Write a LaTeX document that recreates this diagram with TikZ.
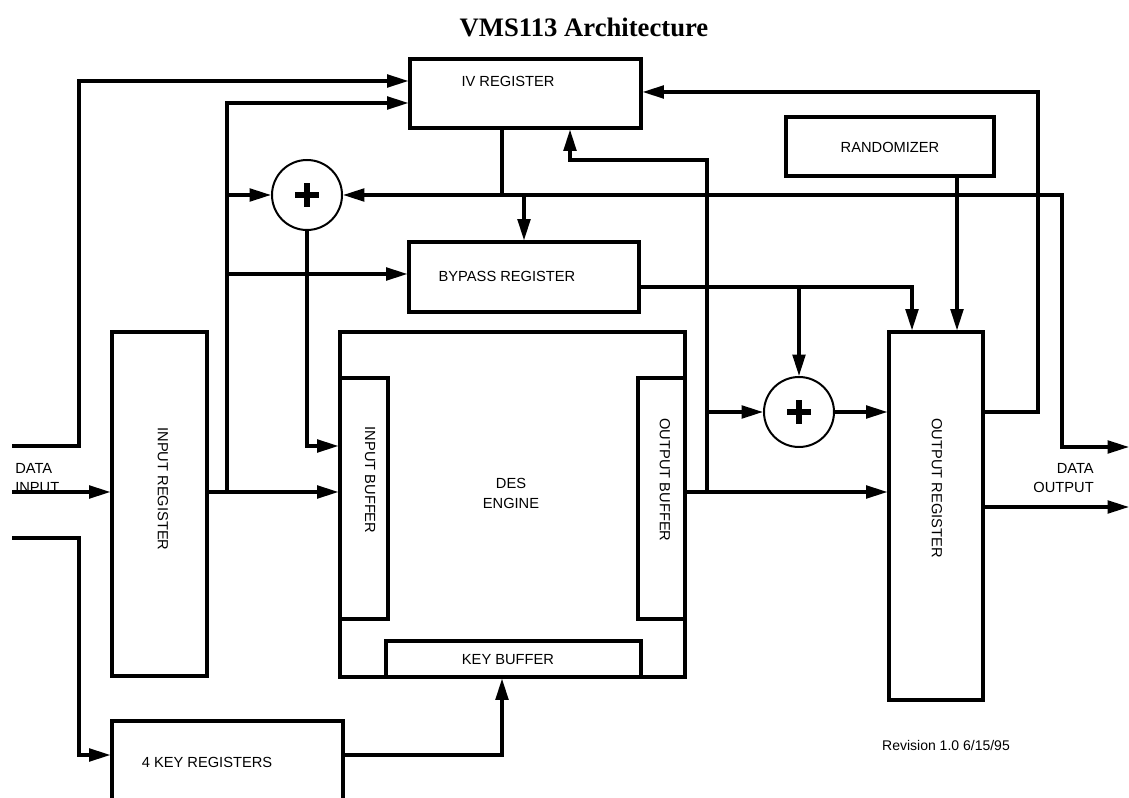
\documentclass[tikz,border=0pt]{standalone}
\usepackage{fontspec}
\setmainfont{Liberation Sans}
\newfontfamily\titlefont{Liberation Serif}
\usetikzlibrary{arrows.meta,fit}
\tikzset{
  blk/.style={draw, line width=2.3pt, inner sep=0pt, fit={#1}},
  lbl/.style={font=\fontsize{11}{14}\selectfont, inner sep=0pt},
  vlbl/.style={lbl, rotate=-90},
  sumop/.style={circle, draw, fill=white, line width=1.5pt, minimum size=52.5pt, inner sep=0pt,
    path picture={
      \draw[line width=3.8pt] ([xshift=-9pt]path picture bounding box.center) -- ++(18pt,0);
      \draw[line width=3.8pt] ([yshift=-9pt]path picture bounding box.center) -- ++(0,18pt);
    }},
  wire/.style={line width=2.3pt},
  arr/.style={wire, -{Triangle[length=16pt,width=9.5pt]}},
}
\begin{document}
\begin{tikzpicture}[x=0.75pt, y=-0.75pt]
\useasboundingbox (0,0) rectangle (1129,798);
\node[font=\titlefont\bfseries\fontsize{20}{24}\selectfont] (title) at (584,27) {VMS113 Architecture};
% registers and buffers
\node[blk={(410,59) (641,128)}] (iv) {};
\node[lbl] (ivtxt) at (508,81) {IV REGISTER};
\node[blk={(786,117) (994,176)}] (rnd) {};
\node[lbl] (rndtxt) at (890,147) {RANDOMIZER};
\node[blk={(409,242) (639,312)}] (byp) {};
\node[lbl] (byptxt) at (507,276) {BYPASS REGISTER};
\node[blk={(112,332) (207,676)}] (inreg) {};
\node[vlbl] (inregtxt) at (163,489) {INPUT REGISTER};
\node[blk={(340,332) (685,677)}] (des) {};
\node[lbl, align=center, font=\fontsize{11}{15}\selectfont] (destxt) at (511,493) {DES\\ENGINE};
\node[blk={(340,378) (388,619)}] (inbuf) {};
\node[vlbl] (inbuftxt) at (370,480) {INPUT BUFFER};
\node[blk={(638,378) (685,619)}] (outbuf) {};
\node[vlbl] (outbuftxt) at (665,480) {OUTPUT BUFFER};
\node[blk={(386,641) (641,677)}] (keybuf) {};
\node[lbl] (keybuftxt) at (508,660) {KEY BUFFER};
\node[blk={(112,721) (343,830)}] (keyreg) {};
\node[lbl] (keyregtxt) at (207,762) {4 KEY REGISTERS};
\node[blk={(889,332) (983,700)}] (outreg) {};
\node[vlbl] (outregtxt) at (937,488) {OUTPUT REGISTER};
\node[sumop] (sum1) at (307,195) {};
\node[sumop] (sum2) at (799,412) {};
% external ports
\coordinate (din1) at (12,446);
\coordinate (din2) at (12,492);
\coordinate (din3) at (12,538);
\coordinate (dout1) at (1129,447);
\coordinate (dout2) at (1129,507);
\node[lbl, align=left, anchor=west] (dintxt) at (15,478) {DATA\\INPUT};
\node[lbl, align=right, anchor=east] (douttxt) at (1094,478) {DATA\\OUTPUT};
% junctions
\coordinate (jin) at (227,492);
\coordinate (jiv) at (502,195);
\coordinate (jout) at (707,492);
\coordinate (jbyp) at (799,287);
% input side
\draw[arr] (din1) -- (79,446) |- (iv.west |- 0,81);
\draw[arr] (din2) -- (inreg.west |- din2);
\draw[arr] (din3) -- (79,538) |- (keyreg.west |- 0,755);
\draw[arr] (inreg.east |- jin) -- (inbuf.west |- jin);
\draw[arr] (jin) |- (iv.west |- 0,103);
\draw[arr] (227,195) -- (sum1.west);
\draw[arr] (227,274) -- (byp.west |- 0,274);
\draw[arr] (sum1.south) |- (inbuf.west |- 0,446);
% IV feedback bus
\draw[wire] (iv.south -| jiv) -- (jiv);
\draw[arr] (jiv) -- (sum1.east);
\draw[arr] (524,195) -- (byp.north -| 524,0);
\draw[arr] (jiv) -- (1062,195) |- (dout1);
% output side
\draw[arr] (outbuf.east |- jout) -- (outreg.west |- jout);
\draw[arr] (jout) |- (570,160) -- (iv.south -| 570,0);
\draw[arr] (707,412) -- (sum2.west);
\draw[arr] (sum2.east) -- (outreg.west |- sum2);
\draw[arr] (byp.east |- jbyp) -| (outreg.north -| 912,0);
\draw[arr] (jbyp) -- (sum2.north);
\draw[arr] (rnd.south -| 957,0) -- (outreg.north -| 957,0);
\draw[arr] (outreg.east |- 0,412) -- (1038,412) |- (iv.east |- 0,92);
\draw[arr] (outreg.east |- dout2) -- (dout2);
\draw[arr] (keyreg.east |- 0,755) -| (keybuf.south -| 502,0);
\node[font=\fontsize{10.5}{12}\selectfont, inner sep=0pt] (rev) at (946,745) {Revision 1.0 6/15/95};
\end{tikzpicture}
\end{document}
